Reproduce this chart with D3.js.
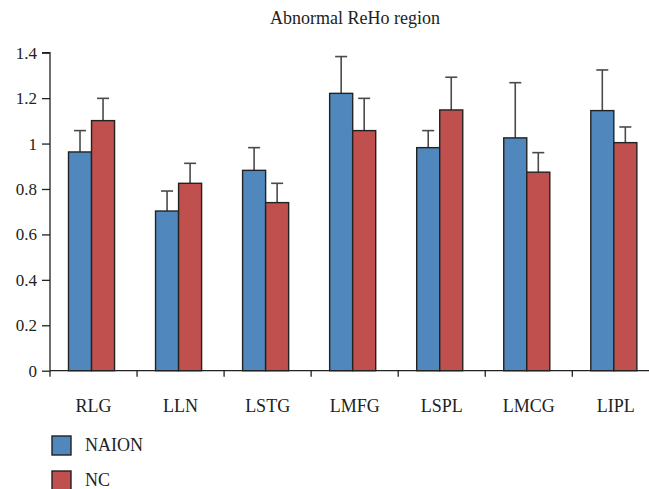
<!DOCTYPE html>
<html>
<head>
<meta charset="utf-8">
<script src="https://cdn.jsdelivr.net/npm/d3@7"></script>
<style>
  body { margin: 0; background: #fff; }
  text { font-family: "Liberation Serif", "Times New Roman", serif; fill: #222; }
</style>
</head>
<body>
<script>
// data
var regions = ["RLG", "LLN", "LSTG", "LMFG", "LSPL", "LMCG", "LIPL"];
var groups = ["NAION", "NC"];
var naionMean = [0.963, 0.703, 0.882, 1.221, 0.982, 1.025, 1.145];
var naionErr  = [0.094, 0.088, 0.100, 0.162, 0.075, 0.243, 0.179];
var ncMean    = [1.101, 0.825, 0.740, 1.057, 1.148, 0.874, 1.004];
var ncErr     = [0.098, 0.088, 0.085, 0.142, 0.144, 0.086, 0.069];
var yTicks = [0, 0.2, 0.4, 0.6, 0.8, 1, 1.2, 1.4];
var colors = {NAION: "#5088bd", NC: "#c0504d"};

var width = 649, height = 489;
var plotLeft = 50, plotBottom = 370.7, plotTop = 52.7, step = 87.05;

var svg = d3.select("body").append("svg")
    .attr("width", width)
    .attr("height", height);

var x0 = d3.scaleBand().domain(regions).range([plotLeft, plotLeft + step * regions.length]);
var x1 = d3.scaleBand().domain(groups).range([0, x0.bandwidth()]).paddingOuter(0.89);
var y = d3.scaleLinear().domain([0, 1.4]).range([plotBottom, plotTop]);

var rows = regions.map(function(r, i) {
    return {region: r, vals: [
        {g: "NAION", v: naionMean[i], e: naionErr[i]},
        {g: "NC", v: ncMean[i], e: ncErr[i]}
    ]};
});

// title
svg.append("text")
    .attr("x", 355).attr("y", 24)
    .attr("text-anchor", "middle")
    .style("font-size", "18px")
    .text("Abnormal ReHo region");

var grp = svg.selectAll("g.region").data(rows).enter().append("g")
    .attr("class", "region")
    .attr("transform", function(d) { return "translate(" + (x0(d.region) - 2) + ",0)"; });

// error bars first (under bars)
var eb = grp.selectAll("g.err").data(function(d) { return d.vals; }).enter().append("g")
    .attr("class", "err")
    .attr("stroke", "#4a4a4a")
    .attr("stroke-width", 1.6);
eb.append("line")
    .attr("x1", function(d) { return x1(d.g) + x1.bandwidth() / 2; })
    .attr("x2", function(d) { return x1(d.g) + x1.bandwidth() / 2; })
    .attr("y1", function(d) { return y(d.v); })
    .attr("y2", function(d) { return y(d.v + d.e); });
eb.append("line")
    .attr("x1", function(d) { return x1(d.g) + x1.bandwidth() / 2 - 6; })
    .attr("x2", function(d) { return x1(d.g) + x1.bandwidth() / 2 + 6; })
    .attr("y1", function(d) { return y(d.v + d.e); })
    .attr("y2", function(d) { return y(d.v + d.e); });

grp.selectAll("rect").data(function(d) { return d.vals; }).enter().append("rect")
    .attr("x", function(d) { return x1(d.g); })
    .attr("width", x1.bandwidth())
    .attr("y", function(d) { return y(d.v); })
    .attr("height", function(d) { return plotBottom - y(d.v); })
    .attr("fill", function(d) { return colors[d.g]; })
    .attr("stroke", "#222")
    .attr("stroke-width", 1.4);

// y axis
var yAxis = svg.append("g")
    .attr("transform", "translate(" + plotLeft + ",0)")
    .call(d3.axisLeft(y).tickValues(yTicks).tickSize(8).tickPadding(5)
        .tickFormat(function(d) { return String(+d.toFixed(1)); }));
yAxis.attr("font-family", null).attr("font-size", null);
yAxis.selectAll("text").style("font-size", "17px").attr("fill", "#222");
yAxis.selectAll("line, path").attr("stroke", "#222").attr("stroke-width", 1.3);
yAxis.select(".domain").attr("d", "M-8," + y(1.4) + "H0V" + plotBottom);

// x axis
var xAxis = svg.append("g")
    .attr("transform", "translate(0," + plotBottom + ")");
xAxis.append("line")
    .attr("x1", plotLeft).attr("x2", width)
    .attr("stroke", "#222").attr("stroke-width", 1.3);
xAxis.selectAll("line.tick").data(regions).enter().append("line")
    .attr("class", "tick")
    .attr("x1", function(d) { return x0(d); })
    .attr("x2", function(d) { return x0(d); })
    .attr("y1", 0).attr("y2", 6)
    .attr("stroke", "#222").attr("stroke-width", 1.3);
xAxis.selectAll("text").data(regions).enter().append("text")
    .attr("x", function(d) { return x0(d) + x0.bandwidth() / 2; })
    .attr("y", 41)
    .attr("text-anchor", "middle")
    .style("font-size", "18px")
    .text(function(d) { return d; });

// legend
var leg = svg.selectAll("g.legend").data(groups).enter().append("g")
    .attr("class", "legend")
    .attr("transform", function(d, i) { return "translate(52," + (436 + i * 35) + ")"; });
leg.append("rect")
    .attr("width", 19).attr("height", 19)
    .attr("fill", function(d) { return colors[d]; })
    .attr("stroke", "#222").attr("stroke-width", 1.4);
leg.append("text")
    .attr("x", 33).attr("y", 15)
    .style("font-size", "18px")
    .text(function(d) { return d; });
</script>
</body>
</html>
